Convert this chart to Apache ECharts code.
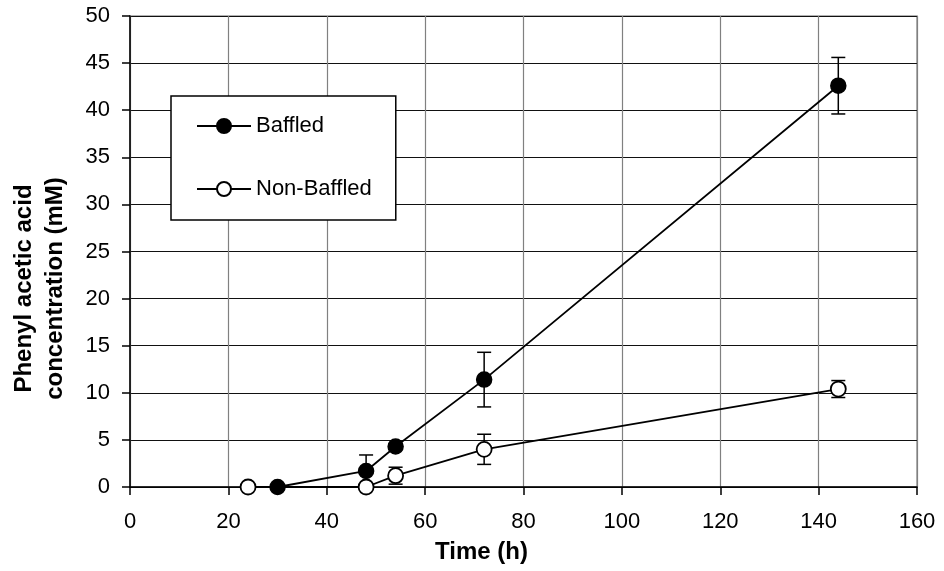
<!DOCTYPE html>
<html>
<head>
<meta charset="utf-8">
<script src="https://cdn.jsdelivr.net/npm/echarts@6/dist/echarts.min.js"></script>
<style>
  html, body { margin: 0; padding: 0; background: #fff; }
  #chart { width: 944px; height: 571px; }
</style>
</head>
<body>
<div id="chart"></div>
<script>
// Sampling times (h) and measured concentrations (mM) with standard deviations
const baffledTime = [30, 48, 54, 72, 144];
const baffledConc = [0, 1.7, 4.3, 11.4, 42.6];
const baffledErr  = [0, 1.7, 0.3, 2.9, 3.0];

const nonBaffledTime = [24, 48, 54, 72, 144];
const nonBaffledConc = [0, 0, 1.2, 4.0, 10.4];
const nonBaffledErr  = [0, 0, 0.9, 1.6, 0.9];

const seriesNames = ['Baffled', 'Non-Baffled'];
const xTitle = 'Time (h)';
const yTitle = 'Phenyl acetic acid\nconcentration (mM)';

const FONT = 'Liberation Sans, Arial, sans-serif';

function pairs(xs, ys) { return xs.map((x, i) => [x, ys[i]]); }
function errRows(xs, ys, es) { return xs.map((x, i) => [x, ys[i] - es[i], ys[i] + es[i], es[i]]); }

// Vertical error bar with caps
function renderErr(params, api) {
  if (api.value(3) === 0) return null;
  const x = api.value(0);
  const lo = api.coord([x, api.value(1)]);
  const hi = api.coord([x, api.value(2)]);
  const cap = 7;
  const style = { stroke: '#000', lineWidth: 1.5 };
  return {
    type: 'group',
    children: [
      { type: 'line', shape: { x1: lo[0], y1: lo[1], x2: hi[0], y2: hi[1] }, style },
      { type: 'line', shape: { x1: hi[0] - cap, y1: hi[1], x2: hi[0] + cap, y2: hi[1] }, style },
      { type: 'line', shape: { x1: lo[0] - cap, y1: lo[1], x2: lo[0] + cap, y2: lo[1] }, style }
    ]
  };
}

const chart = echarts.init(document.getElementById('chart'), null, { renderer: 'canvas' });

chart.setOption({
  animation: false,
  backgroundColor: '#fff',
  grid: {
    left: 130, right: 27, top: 16, bottom: 84,
    show: true, borderColor: '#999', borderWidth: 1.5
  },
  legend: {
    orient: 'vertical',
    left: 171, top: 96,
    data: seriesNames,
    backgroundColor: '#fff',
    borderColor: '#000',
    borderWidth: 1.5,
    borderRadius: 0,
    padding: [19, 24, 20, 25],
    itemGap: 41,
    itemWidth: 54,
    itemHeight: 17.5,
    textStyle: { fontFamily: FONT, fontSize: 22, color: '#000', lineHeight: 18 }
  },
  xAxis: {
    type: 'value',
    min: 0, max: 160, interval: 20,
    name: xTitle,
    nameLocation: 'middle',
    nameGap: 53,
    nameTextStyle: {
      fontFamily: FONT, fontSize: 24, fontWeight: 'bold', color: '#000',
      padding: [0, 84, 0, 0]
    },
    axisLine: { show: true, onZero: false, lineStyle: { color: '#000', width: 1.5 } },
    axisTick: { show: true, inside: false, length: 8, lineStyle: { color: '#000', width: 1.5 } },
    axisLabel: { fontFamily: FONT, fontSize: 22, color: '#000', margin: 24 },
    splitLine: { show: true, lineStyle: { color: '#808080', width: 1.2 } }
  },
  yAxis: {
    type: 'value',
    min: 0, max: 50, interval: 5,
    name: yTitle,
    nameLocation: 'middle',
    nameGap: 59,
    nameRotate: 90,
    nameTextStyle: {
      fontFamily: FONT, fontSize: 24, fontWeight: 'bold', color: '#000', lineHeight: 31,
      padding: [0, 74, 0, 0]
    },
    axisLine: { show: true, lineStyle: { color: '#000', width: 1.5 } },
    axisTick: { show: true, inside: false, length: 8, lineStyle: { color: '#000', width: 1.5 } },
    axisLabel: { fontFamily: FONT, fontSize: 22, color: '#000', margin: 20 },
    splitLine: { show: true, lineStyle: { color: '#111', width: 1.2 } }
  },
  series: [
    {
      type: 'custom',
      renderItem: renderErr,
      data: errRows(baffledTime, baffledConc, baffledErr),
      encode: { x: 0, y: [1, 2] },
      z: 2,
      silent: true
    },
    {
      type: 'custom',
      renderItem: renderErr,
      data: errRows(nonBaffledTime, nonBaffledConc, nonBaffledErr),
      encode: { x: 0, y: [1, 2] },
      z: 2,
      silent: true
    },
    {
      name: seriesNames[0],
      type: 'line',
      data: pairs(baffledTime, baffledConc),
      symbol: 'circle',
      symbolSize: 15,
      showAllSymbol: true,
      lineStyle: { color: '#000', width: 1.8 },
      itemStyle: { color: '#000', borderColor: '#000', borderWidth: 1.5 },
      z: 4
    },
    {
      name: seriesNames[1],
      type: 'line',
      data: pairs(nonBaffledTime, nonBaffledConc),
      symbol: 'circle',
      symbolSize: 15,
      showAllSymbol: true,
      lineStyle: { color: '#000', width: 1.8 },
      itemStyle: { color: '#fff', borderColor: '#000', borderWidth: 1.8 },
      z: 3
    }
  ]
});
</script>
</body>
</html>
